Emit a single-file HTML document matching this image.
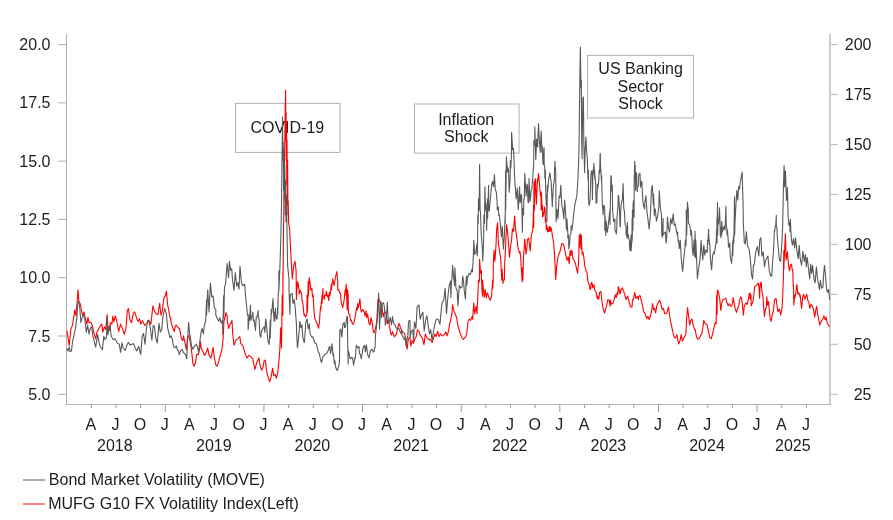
<!DOCTYPE html><html><head><meta charset="utf-8"><title>Volatility chart</title><style>html,body{margin:0;padding:0;background:#fff}svg{display:block}text{font-family:"Liberation Sans",Arial,sans-serif;font-size:16px;fill:#1c1c1c}</style></head><body>
<svg width="893" height="520" viewBox="0 0 893 520">
<rect width="893" height="520" fill="#fff"/>
<g stroke="#cdcdcd" fill="none">
<line x1="830" y1="34" x2="830" y2="405.0" stroke-width="2"/>
<line x1="831" y1="394.30" x2="838" y2="394.30" stroke-width="1.2" stroke="#c2c2c2"/>
<line x1="831" y1="344.34" x2="838" y2="344.34" stroke-width="1.2" stroke="#c2c2c2"/>
<line x1="831" y1="294.37" x2="838" y2="294.37" stroke-width="1.2" stroke="#c2c2c2"/>
<line x1="831" y1="244.41" x2="838" y2="244.41" stroke-width="1.2" stroke="#c2c2c2"/>
<line x1="831" y1="194.44" x2="838" y2="194.44" stroke-width="1.2" stroke="#c2c2c2"/>
<line x1="831" y1="144.48" x2="838" y2="144.48" stroke-width="1.2" stroke="#c2c2c2"/>
<line x1="831" y1="94.51" x2="838" y2="94.51" stroke-width="1.2" stroke="#c2c2c2"/>
<line x1="831" y1="44.55" x2="838" y2="44.55" stroke-width="1.2" stroke="#c2c2c2"/>
</g>
<g fill="none" stroke-width="1">
<line x1="65.5" y1="404.5" x2="831" y2="404.5" stroke="#b6b6b6" stroke-width="1.2"/>
<line x1="66.5" y1="34" x2="66.5" y2="405.0" stroke="#adadad"/>
<line x1="58.2" y1="394.30" x2="66.5" y2="394.30" stroke="#adadad"/>
<line x1="58.2" y1="336.01" x2="66.5" y2="336.01" stroke="#adadad"/>
<line x1="58.2" y1="277.72" x2="66.5" y2="277.72" stroke="#adadad"/>
<line x1="58.2" y1="219.43" x2="66.5" y2="219.43" stroke="#adadad"/>
<line x1="58.2" y1="161.13" x2="66.5" y2="161.13" stroke="#adadad"/>
<line x1="58.2" y1="102.84" x2="66.5" y2="102.84" stroke="#adadad"/>
<line x1="58.2" y1="44.55" x2="66.5" y2="44.55" stroke="#adadad"/>
<line x1="91.30" y1="404.5" x2="91.30" y2="408" stroke="#9a9a9a"/>
<line x1="115.96" y1="404.5" x2="115.96" y2="408" stroke="#9a9a9a"/>
<line x1="140.62" y1="404.5" x2="140.62" y2="408" stroke="#9a9a9a"/>
<line x1="165.28" y1="404.5" x2="165.28" y2="412" stroke="#9a9a9a"/>
<line x1="189.94" y1="404.5" x2="189.94" y2="408" stroke="#9a9a9a"/>
<line x1="214.60" y1="404.5" x2="214.60" y2="408" stroke="#9a9a9a"/>
<line x1="239.26" y1="404.5" x2="239.26" y2="408" stroke="#9a9a9a"/>
<line x1="263.92" y1="404.5" x2="263.92" y2="412" stroke="#9a9a9a"/>
<line x1="288.58" y1="404.5" x2="288.58" y2="408" stroke="#9a9a9a"/>
<line x1="313.24" y1="404.5" x2="313.24" y2="408" stroke="#9a9a9a"/>
<line x1="337.90" y1="404.5" x2="337.90" y2="408" stroke="#9a9a9a"/>
<line x1="362.56" y1="404.5" x2="362.56" y2="412" stroke="#9a9a9a"/>
<line x1="387.22" y1="404.5" x2="387.22" y2="408" stroke="#9a9a9a"/>
<line x1="411.88" y1="404.5" x2="411.88" y2="408" stroke="#9a9a9a"/>
<line x1="436.54" y1="404.5" x2="436.54" y2="408" stroke="#9a9a9a"/>
<line x1="461.20" y1="404.5" x2="461.20" y2="412" stroke="#9a9a9a"/>
<line x1="485.86" y1="404.5" x2="485.86" y2="408" stroke="#9a9a9a"/>
<line x1="510.52" y1="404.5" x2="510.52" y2="408" stroke="#9a9a9a"/>
<line x1="535.18" y1="404.5" x2="535.18" y2="408" stroke="#9a9a9a"/>
<line x1="559.84" y1="404.5" x2="559.84" y2="412" stroke="#9a9a9a"/>
<line x1="584.50" y1="404.5" x2="584.50" y2="408" stroke="#9a9a9a"/>
<line x1="609.16" y1="404.5" x2="609.16" y2="408" stroke="#9a9a9a"/>
<line x1="633.82" y1="404.5" x2="633.82" y2="408" stroke="#9a9a9a"/>
<line x1="658.48" y1="404.5" x2="658.48" y2="412" stroke="#9a9a9a"/>
<line x1="683.14" y1="404.5" x2="683.14" y2="408" stroke="#9a9a9a"/>
<line x1="707.80" y1="404.5" x2="707.80" y2="408" stroke="#9a9a9a"/>
<line x1="732.46" y1="404.5" x2="732.46" y2="408" stroke="#9a9a9a"/>
<line x1="757.12" y1="404.5" x2="757.12" y2="412" stroke="#9a9a9a"/>
<line x1="781.78" y1="404.5" x2="781.78" y2="408" stroke="#9a9a9a"/>
<line x1="806.44" y1="404.5" x2="806.44" y2="408" stroke="#9a9a9a"/>
</g>
<text x="50.5" y="399.9" text-anchor="end">5.0</text>
<text x="50.5" y="341.6" text-anchor="end">7.5</text>
<text x="50.5" y="283.3" text-anchor="end">10.0</text>
<text x="50.5" y="225.0" text-anchor="end">12.5</text>
<text x="50.5" y="166.7" text-anchor="end">15.0</text>
<text x="50.5" y="108.4" text-anchor="end">17.5</text>
<text x="50.5" y="50.2" text-anchor="end">20.0</text>
<text x="871.5" y="399.9" text-anchor="end">25</text>
<text x="871.5" y="349.9" text-anchor="end">50</text>
<text x="871.5" y="300.0" text-anchor="end">75</text>
<text x="871.5" y="250.0" text-anchor="end">100</text>
<text x="871.5" y="200.0" text-anchor="end">125</text>
<text x="871.5" y="150.1" text-anchor="end">150</text>
<text x="871.5" y="100.1" text-anchor="end">175</text>
<text x="871.5" y="50.2" text-anchor="end">200</text>
<text x="90.8" y="429.8" text-anchor="middle">A</text>
<text x="115.5" y="429.8" text-anchor="middle">J</text>
<text x="140.1" y="429.8" text-anchor="middle">O</text>
<text x="164.8" y="429.8" text-anchor="middle">J</text>
<text x="189.4" y="429.8" text-anchor="middle">A</text>
<text x="214.1" y="429.8" text-anchor="middle">J</text>
<text x="238.8" y="429.8" text-anchor="middle">O</text>
<text x="263.4" y="429.8" text-anchor="middle">J</text>
<text x="288.1" y="429.8" text-anchor="middle">A</text>
<text x="312.7" y="429.8" text-anchor="middle">J</text>
<text x="337.4" y="429.8" text-anchor="middle">O</text>
<text x="362.1" y="429.8" text-anchor="middle">J</text>
<text x="386.7" y="429.8" text-anchor="middle">A</text>
<text x="411.4" y="429.8" text-anchor="middle">J</text>
<text x="436.0" y="429.8" text-anchor="middle">O</text>
<text x="460.7" y="429.8" text-anchor="middle">J</text>
<text x="485.4" y="429.8" text-anchor="middle">A</text>
<text x="510.0" y="429.8" text-anchor="middle">J</text>
<text x="534.7" y="429.8" text-anchor="middle">O</text>
<text x="559.3" y="429.8" text-anchor="middle">J</text>
<text x="584.0" y="429.8" text-anchor="middle">A</text>
<text x="608.7" y="429.8" text-anchor="middle">J</text>
<text x="633.3" y="429.8" text-anchor="middle">O</text>
<text x="658.0" y="429.8" text-anchor="middle">J</text>
<text x="682.6" y="429.8" text-anchor="middle">A</text>
<text x="707.3" y="429.8" text-anchor="middle">J</text>
<text x="732.0" y="429.8" text-anchor="middle">O</text>
<text x="756.6" y="429.8" text-anchor="middle">J</text>
<text x="781.3" y="429.8" text-anchor="middle">A</text>
<text x="805.9" y="429.8" text-anchor="middle">J</text>
<text x="114.8" y="450.8" text-anchor="middle">2018</text>
<text x="213.8" y="450.8" text-anchor="middle">2019</text>
<text x="312.4" y="450.8" text-anchor="middle">2020</text>
<text x="411.1" y="450.8" text-anchor="middle">2021</text>
<text x="509.7" y="450.8" text-anchor="middle">2022</text>
<text x="608.4" y="450.8" text-anchor="middle">2023</text>
<text x="707.0" y="450.8" text-anchor="middle">2024</text>
<text x="792.8" y="450.8" text-anchor="middle">2025</text>
<g stroke="#b2b2b2" stroke-width="1" fill="none">
<rect x="235.5" y="103.4" width="104.5" height="49"/>
<rect x="414.5" y="104" width="104.6" height="49.1"/>
<rect x="587.5" y="55.4" width="106" height="62.6"/>
</g>
<text x="287.3" y="132.8" text-anchor="middle">COVID-19</text>
<text x="466.2" y="124.6" text-anchor="middle">Inflation</text>
<text x="466.2" y="142.4" text-anchor="middle">Shock</text>
<text x="640.6" y="73.8" text-anchor="middle">US Banking</text>
<text x="640.6" y="91.5" text-anchor="middle">Sector</text>
<text x="640.6" y="109.2" text-anchor="middle">Shock</text>
<polyline fill="none" stroke="#ff0000" stroke-width="1.1" stroke-linejoin="round" points="67.0,330.8 69.2,345.6 70.8,329.4 72.4,325.4 73.5,318.7 74.8,309.9 75.9,316.0 77.2,301.2 78.0,289.7 78.9,301.2 80.2,303.9 81.5,310.6 82.9,316.0 84.0,311.9 85.6,320.0 86.9,324.1 87.9,317.3 89.0,322.7 90.7,322.0 92.3,325.4 93.7,332.1 95.7,338.9 97.0,332.1 98.4,329.4 99.7,326.8 101.8,324.1 102.8,332.1 104.4,326.8 105.8,329.4 107.1,314.6 107.8,325.4 109.2,330.8 110.5,322.7 111.9,324.1 112.8,316.0 113.9,322.0 115.2,316.0 116.6,320.0 118.6,331.5 120.6,324.1 122.2,328.1 124.4,334.2 126.0,328.1 127.3,310.6 128.4,308.6 130.0,320.0 131.4,322.7 133.4,313.3 134.7,311.9 136.8,318.7 138.1,321.4 139.5,318.7 140.8,324.1 142.4,320.7 144.8,325.4 147.5,322.7 148.9,320.7 150.9,324.1 152.9,305.9 154.3,310.6 156.3,314.0 158.0,314.6 159.7,303.2 161.0,315.3 162.4,310.6 163.7,298.5 165.1,296.4 166.4,291.1 167.7,305.2 169.1,311.9 170.0,317.7 170.4,317.3 171.3,323.1 172.5,326.8 173.4,329.8 174.5,331.5 174.7,327.8 176.1,325.1 176.5,325.4 178.1,327.8 178.5,328.1 179.4,328.5 180.0,330.8 181.4,338.6 182.8,340.6 183.5,335.9 184.8,341.9 186.4,350.0 187.5,337.9 188.9,335.2 190.2,341.9 191.5,350.0 192.9,363.5 194.2,366.2 195.6,362.1 196.7,354.1 198.3,354.7 199.6,348.7 200.6,341.9 201.2,348.7 203.0,351.4 204.3,355.4 205.7,354.1 207.7,348.0 209.1,355.4 211.1,358.1 213.1,347.3 214.4,358.1 215.8,364.8 217.1,366.2 218.5,362.1 219.8,356.8 221.9,350.0 223.2,337.9 223.9,321.7 225.2,316.3 225.9,312.6 226.6,315.0 227.2,315.7 227.2,320.0 228.6,328.5 229.9,324.4 231.3,322.4 232.0,320.4 232.6,332.5 234.0,345.3 236.0,339.9 238.0,338.6 239.8,336.5 240.7,343.3 242.7,345.3 244.7,352.0 246.8,358.1 248.8,355.4 250.8,356.8 252.8,358.8 254.8,369.5 256.9,362.1 258.9,358.1 260.0,364.8 261.6,370.2 262.9,367.5 264.3,360.1 265.4,360.8 266.3,368.9 267.6,375.6 269.7,381.7 271.0,377.6 272.6,368.2 273.7,375.6 275.1,374.3 276.4,378.3 277.7,372.9 279.1,359.4 279.8,350.0 280.7,327.8 281.5,348.0 282.2,295.0 282.2,307.5 282.9,315.0 282.9,272.1 282.9,290.0 283.6,225.0 284.2,185.0 284.6,155.0 285.1,120.0 285.6,90.0 285.9,140.0 286.1,112.0 286.3,160.0 286.5,122.0 286.8,185.0 287.0,140.0 287.4,205.0 287.6,160.0 288.0,215.0 288.2,201.0 288.6,222.0 289.0,225.0 289.6,229.0 290.7,251.9 292.3,278.9 293.7,265.4 295.0,261.4 296.1,270.8 296.4,299.4 297.0,282.9 297.0,290.0 297.7,281.6 299.1,289.6 299.1,294.0 300.4,290.5 301.8,295.0 301.8,298.1 303.1,304.8 303.5,310.0 304.1,315.4 304.4,314.2 305.5,316.7 305.8,316.9 306.8,314.0 307.1,295.0 307.1,312.9 307.5,310.0 308.2,281.6 308.2,296.7 308.8,290.0 309.2,277.5 310.5,285.6 310.9,290.0 311.9,288.3 312.5,296.7 313.2,295.0 313.9,310.1 314.9,319.4 315.2,319.6 316.9,323.5 317.2,323.7 318.6,328.3 319.6,320.8 319.9,314.2 320.6,306.2 320.7,310.0 322.0,295.0 322.0,303.5 323.0,288.3 323.0,295.4 324.4,299.4 324.6,295.0 326.0,295.4 326.3,291.0 327.3,296.7 328.0,295.0 328.7,300.8 329.4,292.3 330.0,295.4 331.4,284.3 331.4,290.0 332.7,278.9 334.1,285.6 335.4,277.5 336.8,271.5 337.8,281.6 337.8,290.0 338.8,289.6 339.5,292.7 340.1,292.3 340.8,295.0 340.8,298.1 341.5,303.5 342.8,307.5 344.2,299.4 345.1,290.0 345.1,295.0 346.2,284.3 347.2,310.0 347.3,290.0 347.5,289.6 348.2,295.0 348.2,306.2 348.6,314.0 349.6,314.2 350.6,320.8 350.9,319.6 352.6,324.1 352.9,324.3 354.3,321.5 355.6,314.2 356.0,311.3 356.7,307.5 357.3,310.0 357.6,303.5 358.6,307.5 359.9,298.8 360.7,308.8 361.3,312.0 362.7,309.4 364.0,311.4 365.0,316.0 366.0,310.8 366.7,317.5 367.7,314.0 368.8,322.9 370.1,325.0 371.1,317.5 372.1,322.2 373.1,330.3 374.1,333.0 375.2,329.6 375.8,327.0 376.8,321.5 377.6,304.7 378.0,300.0 378.7,298.5 379.5,300.5 380.5,303.0 382.2,308.8 383.2,316.8 383.9,313.5 385.3,312.0 386.3,313.5 386.9,318.9 387.5,323.6 388.3,320.2 389.3,325.0 390.0,329.6 390.6,333.0 391.6,335.0 392.4,331.5 394.4,336.9 396.4,334.2 397.7,327.5 399.1,323.5 400.0,325.8 400.4,327.5 401.3,329.8 402.6,332.0 404.6,333.4 405.8,341.0 406.1,344.6 407.1,349.2 408.4,338.8 409.4,337.9 410.0,336.9 410.8,346.0 412.1,340.6 413.5,343.3 414.8,339.3 416.2,336.6 417.5,329.8 418.9,331.2 420.2,335.2 422.2,337.9 424.0,344.6 425.3,333.9 426.9,337.9 429.0,339.9 430.3,339.3 432.1,342.6 433.7,337.9 435.0,333.9 436.1,336.6 437.7,331.2 439.1,336.6 440.4,333.9 442.4,335.9 444.4,334.5 445.8,331.9 447.1,335.9 448.5,331.2 449.8,323.1 450.9,319.1 451.9,313.7 452.5,304.9 453.9,311.0 455.2,313.7 456.6,317.7 457.9,325.8 459.9,332.5 462.0,337.9 463.3,339.3 465.3,337.2 466.7,333.9 468.0,321.8 469.4,319.1 470.7,320.4 472.1,316.4 472.7,319.1 473.8,302.9 474.7,313.7 476.1,306.3 477.0,313.7 477.8,296.2 478.5,280.0 478.8,282.7 479.5,280.0 479.6,259.2 480.5,273.3 481.4,270.6 481.5,280.0 482.4,296.2 482.5,280.0 484.2,297.5 485.1,289.4 486.2,297.5 487.5,292.8 488.9,297.5 490.2,300.2 491.6,296.2 492.6,280.0 492.7,288.1 493.2,280.0 493.3,263.9 494.0,250.4 494.9,261.2 496.0,245.0 496.7,228.9 497.6,222.8 498.4,243.7 499.4,250.4 500.7,258.5 501.7,280.0 502.1,269.3 503.0,283.4 503.4,280.0 504.4,280.0 504.7,263.9 505.7,243.7 506.5,224.8 507.4,230.2 508.4,242.3 509.5,257.1 510.5,246.4 511.5,241.0 512.4,228.9 513.5,231.5 514.6,216.1 515.5,228.9 516.9,238.3 518.2,249.1 519.6,253.1 520.0,251.5 520.9,259.8 521.1,265.0 522.2,281.9 522.3,267.9 522.9,280.0 523.5,257.0 524.8,238.9 526.0,254.3 527.0,246.4 527.4,239.4 528.0,239.0 528.8,238.1 529.0,241.0 530.2,251.0 531.4,234.6 532.8,230.0 533.4,215.0 533.5,205.4 533.7,227.5 534.0,185.4 534.1,181.2 534.4,210.0 535.1,178.7 535.5,179.1 536.4,204.2 537.5,178.7 537.5,182.5 538.6,173.5 539.6,186.0 540.5,196.0 541.1,192.1 541.1,210.0 541.3,191.9 542.2,209.4 542.5,205.6 542.5,216.7 543.2,216.2 543.4,212.3 543.8,214.0 544.5,206.9 545.2,210.0 545.2,215.0 545.3,221.6 545.8,218.1 546.3,230.0 546.7,225.6 547.2,227.5 547.6,232.0 548.0,229.6 548.5,231.5 549.0,227.0 549.0,230.7 549.9,231.0 550.0,226.2 550.3,231.3 551.0,227.6 551.6,230.0 552.3,235.2 553.7,243.5 554.7,256.9 555.7,279.8 556.6,266.4 557.7,258.3 559.1,253.6 560.4,250.2 561.8,243.5 563.4,244.1 564.4,247.5 565.8,255.6 567.1,260.3 568.2,256.9 569.2,263.7 570.1,250.2 570.9,255.6 571.9,250.2 572.8,258.3 574.1,260.3 575.5,263.7 576.6,269.1 577.6,273.1 578.6,262.3 579.3,235.0 579.3,247.5 580.3,233.9 580.9,248.9 581.3,235.0 581.7,246.2 582.2,254.2 583.0,252.2 584.0,259.0 584.9,266.4 586.0,270.4 587.1,273.1 588.0,281.9 589.4,285.2 590.0,289.4 590.7,289.3 591.1,284.0 591.6,282.5 592.0,282.7 592.8,288.0 593.9,284.6 594.7,289.9 595.1,290.8 596.1,292.0 596.5,294.8 597.4,298.9 597.4,296.0 598.4,298.7 598.8,298.9 599.6,292.4 600.9,291.4 601.9,300.8 603.2,309.0 604.5,313.0 605.9,308.3 607.2,302.9 607.5,300.0 608.9,299.8 610.2,306.3 610.2,300.0 611.5,304.2 612.9,303.6 614.3,299.4 614.9,296.0 615.3,294.8 615.9,297.3 616.3,297.5 617.1,292.7 617.8,294.6 618.3,286.7 618.6,286.6 619.4,291.4 619.7,293.3 620.3,293.5 620.7,289.9 621.2,290.1 622.3,287.7 623.7,291.4 625.0,295.4 626.1,299.5 626.4,298.7 627.7,296.1 628.9,300.8 630.4,306.9 632.0,306.9 632.5,300.0 633.1,300.2 633.9,296.8 634.7,292.4 635.8,298.4 637.2,296.4 638.5,299.5 638.5,296.7 639.9,295.4 641.2,300.2 642.5,305.6 643.9,312.3 645.2,313.7 646.6,318.4 647.9,316.4 649.3,319.7 650.6,315.0 651.7,311.0 652.5,303.6 653.6,309.6 654.6,308.3 655.7,313.0 656.7,306.3 658.0,302.9 659.8,300.2 661.1,304.9 662.1,309.6 663.4,308.3 664.7,313.7 666.8,313.0 667.8,309.6 668.5,306.9 669.5,315.0 670.5,321.1 671.6,325.8 672.8,331.9 674.2,337.2 675.5,337.9 676.9,334.5 677.5,337.9 678.6,344.0 680.0,340.6 681.3,334.5 682.3,341.3 683.6,338.6 684.9,335.9 685.9,333.9 686.7,317.7 687.6,307.6 688.6,316.4 689.7,325.1 690.7,320.4 692.0,319.1 693.0,324.4 694.4,329.2 695.3,329.8 696.4,336.6 697.7,339.3 699.1,338.6 700.4,335.9 701.8,333.9 702.9,327.1 703.8,320.4 705.2,323.8 706.9,324.4 708.2,329.8 709.6,336.6 710.0,337.6 711.3,338.7 712.7,333.3 714.0,327.9 715.1,322.5 716.1,323.9 716.7,295.0 717.0,314.4 717.4,290.3 717.8,290.2 718.8,294.0 719.7,298.3 720.8,310.4 721.9,302.3 723.2,299.6 724.5,299.0 725.9,298.3 726.8,302.3 728.2,305.7 729.5,303.7 730.9,306.4 732.2,305.0 733.2,297.6 734.2,303.7 735.3,309.1 736.5,312.4 737.6,308.4 738.6,306.4 739.6,300.3 740.7,296.9 741.6,298.3 742.6,306.4 743.4,315.1 744.3,306.4 745.7,303.0 747.0,304.3 748.4,299.6 749.1,295.0 749.3,293.6 750.1,293.0 750.1,299.0 751.1,295.0 751.1,305.7 752.8,302.3 753.8,295.3 754.7,286.6 756.5,285.5 758.2,282.9 758.8,286.2 759.2,289.6 759.6,298.3 760.1,284.3 760.1,287.5 760.9,282.2 761.2,282.1 761.9,291.3 762.8,295.0 763.6,306.4 764.5,316.5 765.2,310.4 766.3,307.0 766.8,296.9 767.6,305.0 768.6,301.6 769.3,310.4 770.3,319.8 771.3,321.2 772.2,314.4 773.3,311.8 774.6,299.6 776.0,298.3 776.9,305.0 778.0,311.8 779.4,309.1 780.7,315.1 782.1,307.7 782.7,296.0 783.4,277.1 783.8,250.6 783.8,270.0 784.3,257.3 785.4,233.8 786.1,260.0 787.4,251.9 788.4,264.1 789.5,270.8 790.5,265.4 791.5,264.1 792.4,270.8 792.8,270.0 793.2,286.2 793.5,285.6 793.8,305.0 794.6,295.0 794.8,298.3 795.5,295.0 795.9,292.9 796.5,285.6 796.9,284.8 797.5,291.0 797.8,294.2 798.9,292.6 800.0,296.9 800.2,295.0 800.9,302.3 801.6,308.4 802.7,296.9 803.6,294.2 804.9,299.0 806.7,294.2 808.0,301.0 809.0,303.0 809.9,308.4 811.0,304.3 812.4,306.4 813.4,309.1 814.8,317.1 815.7,310.4 816.7,306.4 817.7,314.4 819.1,321.2 819.8,325.2 821.1,321.2 822.5,319.8 823.8,315.8 825.2,319.8 826.1,317.1 827.2,323.2 828.5,325.2 829.6,326.6"/>
<polyline fill="none" stroke="#595959" stroke-width="1.1" stroke-linejoin="round" points="66.7,348.3 68.1,351.0 69.2,347.0 70.1,351.7 71.4,351.0 72.8,340.2 74.1,334.8 75.5,328.1 76.8,318.7 77.8,302.5 78.9,301.8 79.9,309.2 80.9,322.7 82.2,317.3 83.6,314.0 84.9,320.0 86.3,332.1 87.6,325.4 89.0,334.2 90.3,328.1 91.6,326.8 93.0,336.2 94.3,341.6 95.7,347.0 97.0,338.9 97.7,334.8 99.1,342.9 100.4,347.0 102.4,349.6 103.8,336.2 105.1,339.5 106.5,337.5 107.1,317.3 107.9,334.8 109.2,326.8 110.1,325.4 111.2,336.2 113.2,339.5 115.2,338.9 117.2,342.9 119.3,344.3 120.6,352.3 122.0,342.9 123.3,348.3 125.3,350.3 126.7,345.6 128.4,342.2 130.0,344.9 132.1,344.3 133.4,343.6 135.4,348.3 136.8,351.0 138.8,346.3 140.1,352.3 140.8,354.4 142.2,336.2 143.5,333.5 145.1,344.3 146.2,330.8 147.5,320.7 148.9,320.0 150.5,329.4 151.9,340.2 153.2,325.4 154.5,326.8 155.9,338.9 157.2,342.9 159.0,323.4 160.3,332.1 161.7,329.4 163.0,316.0 164.8,308.6 166.4,314.0 167.7,328.1 169.9,337.7 171.2,335.7 172.7,340.6 173.1,344.3 174.0,347.3 175.2,347.6 176.1,346.0 176.5,346.3 177.4,350.0 178.5,351.0 179.2,354.7 180.0,352.3 180.8,350.7 182.1,349.3 183.5,352.7 185.5,354.7 186.8,358.8 187.5,341.9 188.6,322.4 189.5,332.5 190.5,338.6 191.5,346.0 192.9,349.3 194.2,346.6 196.3,344.0 197.6,347.3 198.6,352.7 199.6,343.3 201.0,332.5 202.1,328.5 203.4,333.9 204.3,325.8 205.7,320.5 206.6,299.8 206.6,315.0 207.7,289.7 209.1,312.0 210.4,283.0 211.8,297.1 213.1,295.8 214.4,307.9 215.8,309.3 215.8,315.0 217.1,318.2 218.8,321.1 219.2,320.0 219.8,317.7 221.2,323.1 222.5,320.0 222.8,333.9 223.6,295.8 223.6,317.7 223.9,315.0 224.5,286.4 225.5,285.0 226.6,270.2 227.2,263.5 228.6,277.6 229.5,261.4 230.6,270.2 231.7,268.9 232.6,281.0 234.0,290.4 235.3,272.9 236.7,286.4 238.0,282.3 239.0,289.1 240.0,266.2 241.4,282.3 242.7,285.7 244.7,284.3 245.4,294.4 246.8,307.9 247.4,315.0 248.1,314.6 248.1,329.8 249.5,315.0 249.5,320.0 250.5,305.2 250.8,320.4 251.9,317.3 252.2,316.3 252.8,312.0 253.5,321.1 254.2,320.0 255.5,330.5 256.2,317.3 256.9,317.7 258.2,310.6 258.2,315.0 259.2,320.0 259.2,323.1 260.0,335.8 260.9,337.2 261.3,331.8 262.8,328.8 264.2,326.7 264.9,332.5 265.6,319.2 265.9,319.0 266.9,329.4 267.8,339.8 268.3,341.9 269.2,344.6 270.3,320.0 270.3,337.9 270.5,330.4 271.3,309.3 271.3,315.0 271.9,311.5 273.0,298.6 273.7,315.0 274.1,321.0 274.4,312.0 274.8,321.1 275.4,308.4 275.7,316.3 276.4,316.0 276.4,319.0 277.1,319.0 277.6,307.0 277.7,315.0 278.2,295.0 278.8,289.1 278.9,270.8 278.9,290.0 279.8,270.2 280.2,258.7 280.9,235.0 281.6,200.0 282.0,160.0 282.6,117.0 282.9,160.0 283.2,142.0 283.6,190.0 283.9,150.0 284.3,200.0 284.8,165.0 285.2,215.0 285.6,180.0 286.0,222.0 286.5,195.0 286.9,225.0 287.6,265.4 289.0,278.9 289.0,290.0 289.9,314.2 290.3,295.0 291.0,294.0 291.6,293.7 292.1,293.4 293.0,303.5 294.3,299.4 295.3,309.4 296.4,323.7 296.5,330.2 297.4,347.7 297.7,346.6 298.8,334.2 299.1,333.1 299.7,322.1 300.0,321.6 300.8,327.5 301.1,327.7 301.9,324.9 302.8,336.9 303.1,338.5 304.1,342.3 304.4,342.5 305.5,327.5 305.8,322.3 306.8,319.4 307.1,319.0 308.2,329.0 309.2,323.9 310.2,334.2 310.5,334.4 311.5,336.9 311.9,337.1 312.9,336.9 313.2,338.5 314.2,341.0 314.5,342.5 316.3,343.7 316.6,345.2 317.6,349.1 317.9,350.6 319.0,353.1 319.3,353.3 320.3,358.5 320.6,360.0 321.6,362.5 322.6,357.3 323.0,357.1 324.6,354.6 325.0,354.4 326.7,353.3 327.0,353.1 328.7,349.3 329.1,347.0 329.8,346.6 330.4,353.1 330.7,353.3 332.0,343.8 333.1,355.8 333.4,353.3 334.4,363.9 334.7,360.0 335.8,367.9 337.4,370.6 339.2,363.9 339.5,360.0 339.8,330.3 340.9,329.0 341.5,335.8 341.9,336.9 342.8,325.0 343.2,323.5 344.2,322.3 344.5,327.5 345.5,327.3 346.9,316.2 347.5,316.9 347.6,336.9 348.2,363.9 348.2,350.6 348.9,352.5 350.0,358.7 350.6,358.5 351.6,357.3 352.0,357.1 352.9,360.0 353.6,365.2 354.9,357.3 355.3,358.5 356.3,345.2 356.7,345.7 357.6,347.9 358.0,347.7 359.0,346.6 359.4,353.1 360.3,354.6 361.3,358.6 363.0,347.9 363.4,347.7 364.4,345.2 364.7,345.7 365.4,351.9 366.4,344.8 367.4,353.1 367.7,354.6 369.1,357.9 370.4,350.6 370.8,350.4 371.8,349.3 372.4,349.7 373.1,352.0 374.2,351.8 374.5,347.9 375.1,347.7 375.5,335.0 377.2,320.2 378.2,303.4 378.6,293.1 379.0,305.0 379.5,329.0 380.2,313.5 380.9,301.3 381.5,317.5 382.2,304.0 383.2,302.7 383.9,304.0 384.6,310.0 385.3,325.0 385.9,323.6 386.6,313.5 387.3,302.0 387.6,310.0 388.3,320.2 389.0,323.0 389.6,320.2 390.3,317.5 391.0,322.2 391.6,325.0 392.5,316.2 393.0,320.2 393.7,323.0 394.7,324.2 395.7,327.0 396.7,328.3 397.7,329.6 398.7,328.3 399.7,330.3 400.4,332.3 401.1,333.7 401.8,330.2 402.0,335.2 403.1,336.9 404.0,339.3 404.5,339.6 405.6,336.9 406.1,346.0 406.5,345.0 407.4,336.6 407.8,336.9 408.5,322.1 409.2,320.4 410.0,320.8 410.1,336.6 411.4,331.2 412.8,329.8 413.5,340.6 414.5,321.8 415.9,328.5 417.2,306.9 418.9,304.9 420.2,319.1 421.5,315.0 422.9,312.3 424.2,331.2 425.6,320.4 426.9,315.7 428.3,325.8 429.6,333.9 430.7,329.8 432.1,340.6 433.7,329.8 435.7,320.4 437.0,319.1 438.4,319.7 440.0,324.4 441.1,311.0 442.0,302.9 443.8,300.2 445.1,288.1 446.5,313.7 447.8,297.5 449.2,285.4 450.5,281.3 450.9,297.5 451.5,280.0 451.9,280.0 452.6,265.2 453.9,280.0 454.0,277.3 454.5,285.4 454.9,267.9 455.6,280.0 455.9,288.1 457.2,290.8 457.9,305.6 459.3,285.4 460.6,288.1 462.2,286.7 462.3,280.0 462.7,276.0 463.4,280.0 464.4,292.1 465.5,298.9 466.1,280.0 466.6,276.0 466.7,285.4 467.3,280.0 467.7,277.3 469.1,273.3 470.4,274.6 471.8,269.3 472.4,272.0 473.1,261.2 473.8,240.3 474.7,254.4 475.8,253.1 476.9,243.7 477.4,255.8 477.8,215.0 478.2,223.5 478.5,198.9 479.2,210.0 479.6,164.5 480.1,210.0 480.5,212.3 481.2,234.2 482.3,247.7 482.8,261.2 483.6,241.0 483.9,215.0 484.5,223.5 484.9,186.8 485.5,210.0 485.9,202.9 486.3,210.0 486.6,212.3 486.6,230.2 487.6,198.9 487.6,218.1 488.6,185.4 488.6,210.0 489.3,211.0 490.6,196.2 491.7,184.1 492.6,181.4 493.6,186.8 494.4,174.6 495.3,189.4 496.3,192.1 497.1,201.6 497.3,210.0 498.4,207.0 498.7,215.4 499.4,215.0 500.0,220.8 501.4,236.9 502.3,226.2 503.4,249.1 504.3,236.9 505.2,215.0 505.2,223.5 505.6,171.0 505.7,210.0 506.4,156.8 507.4,171.9 507.6,167.3 508.5,169.6 509.2,192.1 510.1,178.7 510.3,160.6 510.8,167.9 511.5,153.1 511.6,132.3 512.4,145.0 512.6,149.8 513.5,148.4 514.2,163.9 514.3,170.0 515.1,185.4 516.2,198.9 517.3,188.1 518.2,209.6 519.6,186.8 520.0,202.7 520.5,201.6 521.1,194.6 521.6,194.8 522.4,232.3 522.7,208.3 523.6,215.0 523.8,198.7 524.3,198.9 524.8,173.2 525.9,192.1 526.1,196.0 527.0,184.1 527.4,185.2 528.0,201.6 528.4,202.7 529.1,178.2 529.9,201.6 530.5,198.7 531.0,190.8 531.9,189.2 532.1,185.4 532.9,175.9 533.2,170.0 533.7,163.8 533.9,140.4 534.8,145.0 534.8,126.9 535.8,159.5 536.6,139.1 537.1,145.0 537.6,147.1 538.5,123.6 539.3,140.4 540.3,152.5 540.4,145.0 541.3,131.0 541.8,151.7 542.2,145.8 542.9,162.5 543.3,164.6 543.8,149.0 544.1,147.8 544.2,165.0 544.7,165.2 544.9,178.5 545.3,170.0 545.6,185.4 546.3,205.4 546.5,194.8 546.9,221.6 547.4,185.4 547.6,191.9 548.5,180.6 549.9,172.8 551.2,182.5 552.3,206.8 553.4,185.2 554.3,181.2 554.5,170.0 555.0,161.3 555.0,165.0 555.7,170.0 556.1,221.6 557.0,209.4 558.0,218.9 559.1,196.0 560.0,197.3 560.8,185.2 561.8,205.4 562.8,209.4 563.8,218.9 564.7,200.0 565.8,216.2 566.5,230.0 566.9,218.9 567.8,232.3 567.8,238.1 568.5,235.0 568.8,248.9 569.8,242.1 570.1,235.0 570.9,234.0 571.2,225.6 571.9,230.0 572.8,222.9 573.9,212.1 574.9,204.1 575.9,200.0 576.8,196.0 577.9,180.0 578.5,165.0 579.0,150.0 579.4,115.0 579.9,75.0 580.4,47.0 580.9,88.0 581.3,80.0 581.7,140.0 582.1,158.8 582.5,120.0 582.9,98.0 583.4,97.0 583.8,140.0 584.6,172.6 585.2,150.0 585.9,137.0 586.5,150.0 587.3,158.5 588.0,180.0 588.4,170.0 588.4,197.3 589.0,205.4 590.0,202.0 590.0,198.7 590.9,175.0 591.5,170.8 592.2,175.0 592.4,199.6 592.9,170.0 593.2,175.0 593.4,170.4 593.9,163.2 594.1,167.7 594.7,176.4 594.7,170.0 594.7,178.5 594.9,175.0 595.7,183.9 596.1,203.3 596.8,202.7 597.4,184.4 597.8,187.9 598.8,180.1 599.0,175.0 599.2,170.0 599.7,173.1 600.1,154.0 600.3,153.5 600.5,165.0 601.5,181.5 601.6,175.0 602.3,203.7 603.2,214.8 603.5,206.0 604.2,205.4 604.8,210.0 604.8,230.0 605.1,216.2 605.8,235.4 606.2,221.6 606.9,230.0 607.5,232.3 608.9,218.9 609.9,210.0 610.0,224.3 610.9,175.7 611.3,175.8 611.8,191.2 612.3,185.2 612.6,210.0 612.9,213.5 613.6,221.6 614.9,218.9 614.9,230.0 615.9,232.3 616.3,234.0 616.7,230.0 617.0,217.5 617.6,210.0 618.0,205.4 618.3,195.2 618.7,196.0 619.6,211.1 620.0,226.6 620.3,227.0 620.7,210.0 621.2,204.5 621.6,202.0 622.0,201.0 622.4,200.0 623.1,183.6 623.7,207.3 624.0,209.9 624.3,210.0 625.1,224.1 626.1,226.6 626.1,235.0 626.4,229.1 627.1,238.1 627.4,222.5 627.4,237.7 627.5,222.9 627.7,234.0 628.4,234.8 628.8,239.2 629.4,240.0 629.8,250.2 630.1,250.5 631.1,235.0 631.1,250.9 631.4,247.1 631.9,240.0 632.1,218.9 632.1,240.8 632.4,235.0 632.4,210.0 632.8,210.4 632.9,230.0 633.1,205.4 633.4,200.8 634.1,217.1 634.2,178.1 634.4,175.0 634.7,161.2 634.8,170.0 635.2,165.0 635.5,190.3 636.1,172.5 636.6,173.9 637.1,191.5 637.4,191.2 637.4,187.9 638.2,186.2 638.5,184.8 638.7,175.0 639.5,173.6 640.0,173.1 640.5,187.3 641.5,181.4 641.9,181.8 642.6,196.9 642.8,200.6 643.6,206.4 643.9,206.0 644.6,209.1 644.9,202.0 645.9,195.7 646.9,210.9 648.0,219.8 649.2,229.3 650.3,215.8 650.6,210.0 651.2,196.9 651.3,191.2 652.3,185.3 653.4,205.0 653.6,193.9 654.3,215.8 654.4,208.7 655.3,209.5 656.4,221.2 657.7,215.8 658.4,210.0 658.8,207.7 659.3,190.7 660.4,208.2 660.7,210.0 661.5,215.8 661.8,235.0 662.4,237.2 663.1,218.5 663.1,235.0 664.2,233.3 665.5,232.0 665.5,235.0 666.1,243.1 666.5,240.0 666.9,235.0 667.4,217.1 668.5,227.9 669.6,232.0 670.6,218.5 671.9,223.9 673.2,213.8 674.1,225.2 675.2,223.9 676.3,230.6 677.2,235.0 677.6,232.0 678.2,241.7 678.6,240.0 679.3,248.5 680.3,240.4 681.3,259.2 682.6,271.4 684.0,256.5 684.9,248.5 685.3,240.0 686.0,245.8 686.3,223.9 686.3,210.0 686.7,235.0 687.4,202.1 688.3,210.0 688.4,222.5 689.8,225.2 690.7,232.0 690.7,235.0 691.4,230.6 692.1,240.0 692.1,245.8 693.0,255.2 694.1,240.0 694.1,248.5 694.7,256.5 695.0,231.3 695.7,257.9 695.8,240.0 697.4,278.8 698.8,267.3 700.1,259.2 701.1,240.4 701.9,251.2 702.8,259.9 703.8,245.1 704.8,255.2 705.9,249.8 707.3,252.5 707.5,240.0 708.2,240.4 708.5,229.3 709.2,244.4 709.3,240.0 710.0,247.9 710.2,255.2 711.1,265.4 711.6,270.0 712.4,258.7 712.7,255.2 713.8,251.9 714.3,253.9 715.5,246.2 716.3,240.0 716.5,230.0 716.7,238.5 717.0,217.1 717.0,243.1 717.5,202.4 717.6,235.0 717.8,225.0 718.4,219.3 718.6,223.9 719.5,207.8 720.1,225.0 720.3,235.0 720.5,227.3 720.7,233.3 720.9,237.4 721.7,221.9 721.7,235.0 721.9,221.3 722.1,229.0 722.6,232.0 723.2,227.3 723.6,229.1 724.5,226.0 724.8,229.3 724.8,226.3 725.1,230.0 725.9,206.4 726.2,225.0 726.8,228.0 727.1,235.0 727.5,230.0 727.7,233.3 728.3,241.3 728.4,247.1 729.1,246.5 729.8,243.1 730.2,256.0 730.7,259.2 731.7,263.3 732.9,240.0 732.9,255.2 732.9,251.9 733.5,236.0 733.8,243.1 734.0,230.0 734.0,237.1 734.5,196.6 734.7,235.0 734.9,225.0 735.6,210.8 736.8,190.3 737.8,200.0 738.7,186.5 739.6,189.0 740.0,183.5 740.7,180.2 742.1,172.1 743.0,200.4 743.4,225.0 743.7,230.0 744.3,242.5 745.3,243.9 746.4,231.7 747.4,245.2 749.1,249.2 750.4,260.0 751.5,274.8 752.6,278.9 753.4,265.4 754.4,264.1 755.8,251.9 757.4,246.5 758.8,256.0 759.8,239.8 760.9,237.8 761.9,256.0 763.2,251.9 764.5,266.8 765.5,260.0 766.6,258.7 767.9,256.0 769.3,270.8 770.6,275.5 771.7,276.2 772.6,261.4 773.6,249.2 774.4,230.0 774.6,231.7 775.3,226.0 775.7,226.3 776.3,215.2 776.3,225.0 777.1,230.0 777.1,234.4 778.4,249.2 779.4,260.0 780.7,261.4 782.1,238.5 782.5,230.0 782.7,225.0 783.4,186.9 784.1,165.4 784.7,186.9 785.4,170.8 786.5,200.4 787.4,187.6 788.1,215.2 788.8,225.0 789.5,222.0 790.1,231.7 790.4,219.3 790.8,230.0 791.5,239.8 792.4,245.2 793.5,238.5 794.6,247.9 795.5,237.8 796.9,250.6 798.2,258.7 799.2,245.2 800.2,258.7 801.6,265.4 802.9,251.3 804.3,261.4 805.4,254.6 806.3,266.8 807.2,257.3 808.6,269.4 809.7,278.9 810.7,264.1 811.7,273.5 812.6,265.4 814.0,278.9 815.1,282.9 816.4,266.8 817.5,278.9 818.6,284.3 819.4,289.6 820.4,280.2 821.5,288.3 822.9,287.0 823.8,272.1 824.5,265.4 825.6,276.2 826.5,288.3 827.4,292.3 828.5,289.6 829.2,295.0 829.6,299.7"/>
<line x1="23" y1="480" x2="45" y2="480" stroke="#969696" stroke-width="1.6"/>
<line x1="23" y1="504" x2="45" y2="504" stroke="#ff6060" stroke-width="1.6"/>
<text x="48.85" y="485">Bond Market Volatility (MOVE)</text>
<text x="48.15" y="509">MUFG G10 FX Volatility Index(Left)</text>
</svg></body></html>
